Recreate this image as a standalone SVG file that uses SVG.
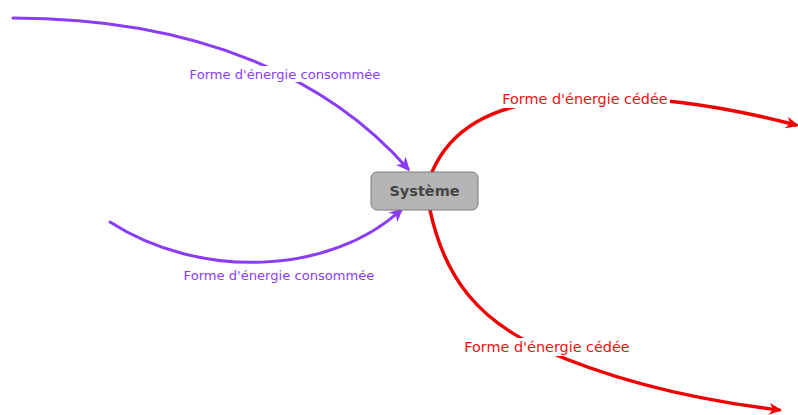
<svg xmlns="http://www.w3.org/2000/svg" width="798" height="415" viewBox="0 0 798 415">
<style>
.p{fill:none;stroke:#8a3cf6;stroke-width:3;stroke-linecap:round}
.r{fill:none;stroke:#f00000;stroke-width:3.5;stroke-linecap:round}
.lbl{font-family:"DejaVu Sans",sans-serif}
.bg{fill:#fff}
.lp{fill:#8a3cf6;font-size:13.1px}
.lr{fill:#ee1111;font-size:14.4px}
</style>
<defs>
<marker id="ap" markerWidth="15" markerHeight="15" refX="11" refY="7.5" orient="auto" markerUnits="userSpaceOnUse" viewBox="0 0 15 15"><path d="M0,1 L14,7.5 L0,14 L4,7.5 Z" fill="#8a3cf6"/></marker>
<marker id="ar" markerWidth="14" markerHeight="14" refX="10" refY="7" orient="auto" markerUnits="userSpaceOnUse" viewBox="0 0 14 14"><path d="M0,1 L13,7 L0,13 L4,7 Z" fill="#f00000"/></marker>
</defs>
<g id="connectors">
<path class="p" d="M13,18 C200,18 330,80 408,169" marker-end="url(#ap)"/>
<path class="p" d="M110,222 C200,280 330,275 401,210" marker-end="url(#ap)"/>
<path class="r" d="M432,172 C450,130 490,105 560,99 C640,93 720,105 796,125" marker-end="url(#ar)"/>
<path class="r" d="M430,210 C445,280 480,320 540,348 C600,375 680,398 779,410" marker-end="url(#ar)"/>
<rect class="bg" x="188" y="66" width="195" height="16"/>
<rect class="bg" x="182" y="267" width="195" height="16"/>
<rect class="bg" x="500" y="90" width="170" height="18"/>
<rect class="bg" x="461" y="338" width="172" height="18"/>
<text class="lbl lp" x="285" y="79" text-anchor="middle">Forme d'énergie consommée</text>
<text class="lbl lp" x="279" y="280" text-anchor="middle">Forme d'énergie consommée</text>
<text class="lbl lr" x="585" y="104" text-anchor="middle">Forme d'énergie cédée</text>
<text class="lbl lr" x="547" y="352" text-anchor="middle">Forme d'énergie cédée</text>
</g>
<g id="systeme">
<rect x="371" y="172" width="107" height="38" rx="6" fill="#b5b5b5" stroke="#7a7a7a" stroke-width="1"/>
<text x="424.5" y="196" text-anchor="middle" font-family="DejaVu Sans,sans-serif" font-size="14.5" font-weight="bold" fill="#454545">Système</text>
</g>
</svg>
